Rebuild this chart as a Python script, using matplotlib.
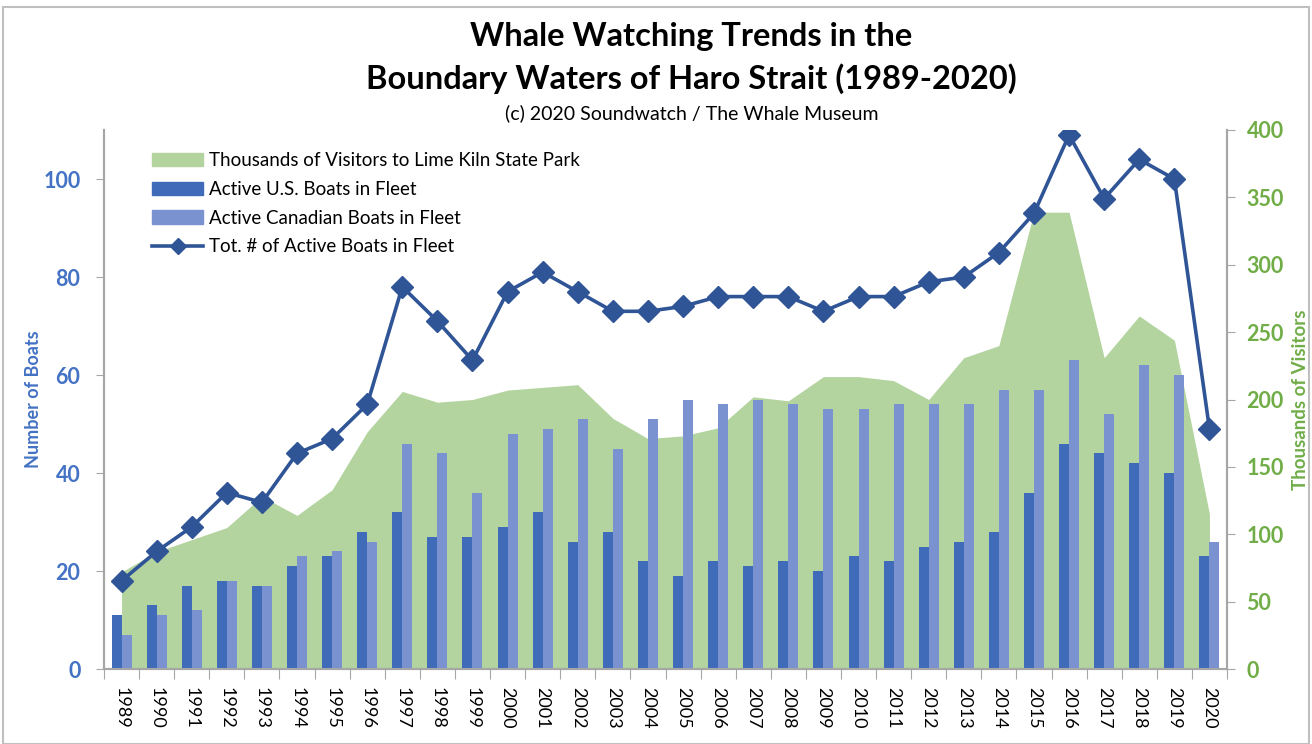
import matplotlib.pyplot as plt
from matplotlib.lines import Line2D
from matplotlib.patches import Patch, Rectangle
import numpy as np

plt.rcParams['font.family'] = ['Lato', 'DejaVu Sans']

years = [str(y) for y in range(1989, 2021)]
us_boats = [11, 13, 17, 18, 17, 21, 23, 28, 32, 27, 27, 29, 32, 26, 28, 22,
            19, 22, 21, 22, 20, 23, 22, 25, 26, 28, 36, 46, 44, 42, 40, 23]
can_boats = [7, 11, 12, 18, 17, 23, 24, 26, 46, 44, 36, 48, 49, 51, 45, 51,
             55, 54, 55, 54, 53, 53, 54, 54, 54, 57, 57, 63, 52, 62, 60, 26]
total_boats = [18, 24, 29, 36, 34, 44, 47, 54, 78, 71, 63, 77, 81, 77, 73, 73,
               74, 76, 76, 76, 73, 76, 76, 79, 80, 85, 93, 109, 96, 104, 100, 49]
visitors = [72, 87, 96, 105, 128, 114, 133, 176, 206, 198, 200, 207, 209, 211, 186, 171,
            173, 179, 202, 199, 217, 217, 214, 200, 231, 240, 339, 339, 231, 262, 244, 115]
boat_ticks = [0, 20, 40, 60, 80, 100]
visitor_ticks = [0, 50, 100, 150, 200, 250, 300, 350, 400]

c_us = '#3F6BB9'
c_can = '#7A92CF'
c_green = '#B3D49F'
c_line = '#2F5597'
c_blue_txt = '#4472C4'
c_green_txt = '#70AD47'
c_spine = '#A6A6A6'

fig = plt.figure(figsize=(13.12, 7.44), dpi=100)
ax = fig.add_axes([104 / 1312, 75 / 744, 1123 / 1312, 539 / 744])
ax2 = ax.twinx()
ax.set_zorder(ax2.get_zorder() + 1)
ax.patch.set_visible(False)

x = np.arange(len(years))
w = 0.285

# visitors area sits on the right axis, behind the bars
ax2.fill_between(x, visitors, color=c_green, lw=0)
ax2.set_ylim(0, 400)
ax2.set_yticks(visitor_ticks)
ax2.set_yticklabels([str(t) for t in visitor_ticks], color=c_green_txt,
                    fontweight='bold', fontsize=15.5)
ax2.tick_params(axis='y', length=6, color=c_spine, pad=8)
ax2.set_ylabel('Thousands of Visitors', color=c_green_txt, fontsize=13.5,
               fontweight='bold')
ax2.yaxis.set_label_coords(1.058, 0.5)

ax.bar(x - w / 2, us_boats, w, color=c_us)
ax.bar(x + w / 2, can_boats, w, color=c_can)
ax.plot(x, total_boats, color=c_line, lw=2.6, marker='D', markersize=11)

ax.set_xlim(-0.5, len(years) - 0.5)
ax.set_ylim(0, 110)
ax.set_yticks(boat_ticks)
ax.set_yticklabels([str(t) for t in boat_ticks], color=c_blue_txt,
                   fontweight='bold', fontsize=15.5)
ax.tick_params(axis='y', length=6, color=c_spine, pad=11)
ax.set_ylabel('Number of Boats', color=c_blue_txt, fontsize=13,
              fontweight='bold')
ax.yaxis.set_label_coords(-0.055, 0.5)

ax.set_xticks(np.arange(-0.5, len(years), 1))
ax.set_xticklabels([])
ax.set_xticks(x, minor=True)
ax.set_xticklabels(years, minor=True, rotation=-90, fontsize=13)
ax.tick_params(axis='x', which='major', length=7, color=c_spine)
ax.tick_params(axis='x', which='minor', length=0, pad=13)

for a in (ax, ax2):
    a.spines['top'].set_visible(False)
    for s in ('left', 'right', 'bottom'):
        a.spines[s].set_color(c_spine)
        a.spines[s].set_linewidth(1.5)

handles = [Patch(color=c_green), Patch(color=c_us), Patch(color=c_can),
           Line2D([], [], color=c_line, lw=2.6, marker='D', markersize=8)]
labels = ['Thousands of Visitors to Lime Kiln State Park', 'Active U.S. Boats in Fleet',
          'Active Canadian Boats in Fleet', 'Tot. # of Active Boats in Fleet']
ax.legend(handles, labels, loc='upper left', bbox_to_anchor=(0.028, 0.99),
          frameon=False, fontsize=13.5, handlelength=2.7, handleheight=0.7,
          labelspacing=0.62, handletextpad=0.3)

fig.text(0.527, 0.951, 'Whale Watching Trends in the', ha='center', va='center',
         fontsize=23.5, fontweight='bold')
fig.text(0.527, 0.894, 'Boundary Waters of Haro Strait (1989-2020)', ha='center',
         va='center', fontsize=23.5, fontweight='bold')
fig.text(0.527, 0.848, '(c) 2020 Soundwatch / The Whale Museum', ha='center',
         va='center', fontsize=14)

fig.patches.append(Rectangle((3 / 1312, 0), 1306 / 1312, 737 / 744, transform=fig.transFigure,
                             fill=False, edgecolor='#BFBFBF', lw=1.5))

fig.savefig('out.png', dpi=100)
